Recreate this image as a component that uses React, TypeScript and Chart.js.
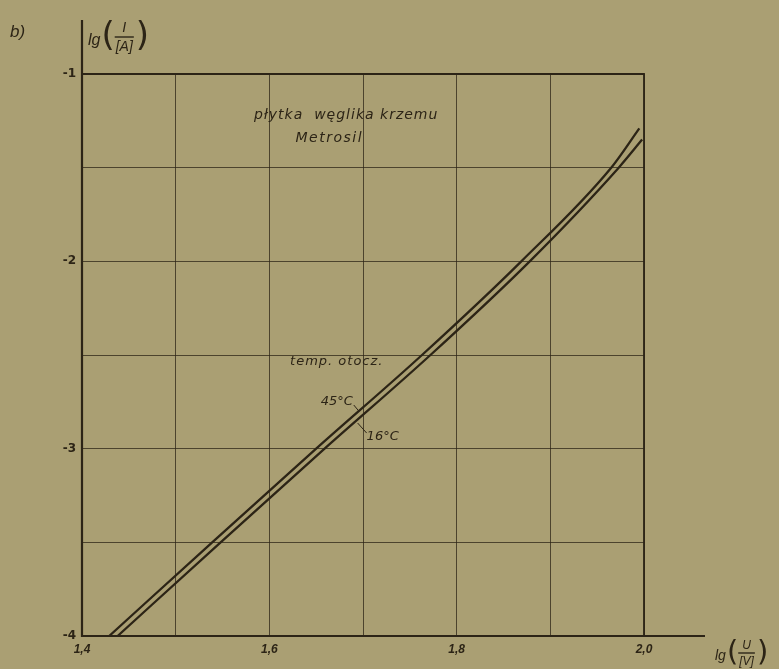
import React, { useEffect, useRef } from "react";
import { Chart, registerables } from "chart.js";

Chart.register(...registerables);

// --- data ---
const lgU45 = [1.429, 1.539, 1.65, 1.763, 1.869, 1.965, 1.995];
const lgI45 = [-4, -3.5, -3, -2.5, -2, -1.5, -1.29];
const lgU16 = [1.438, 1.548, 1.659, 1.772, 1.878, 1.973, 1.998];
const lgI16 = [-4, -3.5, -3, -2.5, -2, -1.5, -1.35];
const xLabelTicks = [1.4, 1.6, 1.8, 2.0];
const yLabelTicks = [-1, -2, -3, -4];

const INK = "#2c2416";
const PAPER = "#aa9f73";

const annotations = [
  { text: "płytka  węglika krzemu", x: 1.682, y: -1.219, size: 14, spacing: 1 },
  { text: "Metrosil", x: 1.664, y: -1.342, size: 14, spacing: 1.5 },
  { text: "temp. otocz.", x: 1.672, y: -2.535, size: 13, spacing: 1 },
  { text: "45°C", x: 1.672, y: -2.751, size: 13, spacing: 0 },
  { text: "16°C", x: 1.721, y: -2.938, size: 13, spacing: 0 },
];

const near = (v: number, arr: number[]) => arr.some((a) => Math.abs(a - v) < 1e-6);

const decorPlugin = {
  id: "decor",
  afterDraw(chart: any) {
    const { ctx, chartArea, scales } = chart;
    const xs = scales.x;
    const ys = scales.y;
    const L = chartArea.left, R = chartArea.right, T = chartArea.top, B = chartArea.bottom;
    ctx.save();
    ctx.strokeStyle = INK;
    ctx.fillStyle = INK;
    // axes and frame
    ctx.lineWidth = 2.2;
    ctx.beginPath();
    ctx.moveTo(L, 20);
    ctx.lineTo(L, B + 1);
    ctx.moveTo(L - 1, B);
    ctx.lineTo(705, B);
    ctx.stroke();
    ctx.lineWidth = 1.8;
    ctx.beginPath();
    ctx.moveTo(L, T);
    ctx.lineTo(R, T);
    ctx.lineTo(R, B);
    ctx.stroke();

    // annotations
    ctx.textAlign = "center";
    ctx.textBaseline = "middle";
    for (const a of annotations) {
      ctx.font = `italic ${a.size}px 'DejaVu Sans', sans-serif`;
      (ctx as any).letterSpacing = `${a.spacing}px`;
      ctx.fillText(a.text, xs.getPixelForValue(a.x), ys.getPixelForValue(a.y));
    }
    (ctx as any).letterSpacing = "0px";
    // leader lines
    ctx.lineWidth = 1;
    ctx.beginPath();
    const p45 = { x: xs.getPixelForValue(1.672), y: ys.getPixelForValue(-2.751) };
    ctx.moveTo(p45.x + 17, p45.y + 3);
    ctx.lineTo(p45.x + 22, p45.y + 9);
    const p16 = { x: xs.getPixelForValue(1.721), y: ys.getPixelForValue(-2.938) };
    ctx.moveTo(p16.x - 25, p16.y - 14);
    ctx.lineTo(p16.x - 16, p16.y - 4);
    ctx.stroke();

    // "b)"
    ctx.font = "italic 17px 'Liberation Sans', 'DejaVu Sans', sans-serif";
    ctx.textAlign = "left";
    ctx.textBaseline = "alphabetic";
    ctx.fillText("b)", 10, 37);

    // axis titles lg(num/den)
    const drawTitle = (x: number, yMid: number, num: string, den: string, s: number) => {
      ctx.textAlign = "left";
      ctx.textBaseline = "middle";
      ctx.font = `italic ${Math.round(16 * s)}px 'Liberation Sans', 'DejaVu Sans', sans-serif`;
      ctx.fillText("lg", x, yMid + 4 * s);
      const lgW = ctx.measureText("lg").width;
      ctx.font = `${Math.round(34 * s)}px 'DejaVu Sans', sans-serif`;
      const px = x + lgW + 1;
      ctx.fillText("(", px, yMid);
      const pw = ctx.measureText("(").width;
      ctx.font = `italic ${Math.round(14 * s)}px 'Liberation Sans', 'DejaVu Sans', sans-serif`;
      const dw = ctx.measureText(den).width;
      const fx = px + pw + 1;
      ctx.textAlign = "center";
      ctx.fillText(num, fx + dw / 2, yMid - 9 * s);
      ctx.fillText(den, fx + dw / 2, yMid + 10 * s);
      ctx.lineWidth = 1.4;
      ctx.beginPath();
      ctx.moveTo(fx - 1, yMid);
      ctx.lineTo(fx + dw + 1, yMid);
      ctx.stroke();
      ctx.textAlign = "left";
      ctx.font = `${Math.round(34 * s)}px 'DejaVu Sans', sans-serif`;
      ctx.fillText(")", fx + dw + 3, yMid);
    };
    drawTitle(88, 37, "I", "[A]", 1);
    drawTitle(715, 653, "U", "[V]", 0.85);
    ctx.restore();
  },
};

export default function App() {
  const ref = useRef<HTMLCanvasElement>(null);
  useEffect(() => {
    if (!ref.current) return;
    const chart = new Chart(ref.current, {
      type: "line",
      data: {
        datasets: [
          {
            label: "45°C",
            data: lgU45.map((x, i) => ({ x, y: lgI45[i] })),
            borderColor: INK,
            borderWidth: 2.3,
            pointRadius: 0,
            cubicInterpolationMode: "monotone",
            fill: false,
          },
          {
            label: "16°C",
            data: lgU16.map((x, i) => ({ x, y: lgI16[i] })),
            borderColor: INK,
            borderWidth: 2.3,
            pointRadius: 0,
            cubicInterpolationMode: "monotone",
            fill: false,
          },
        ],
      },
      options: {
        responsive: false,
        animation: false,
        layout: { padding: { left: 42, top: 74, right: 135, bottom: 8 } },
        plugins: { legend: { display: false }, tooltip: { enabled: false } },
        scales: {
          x: {
            type: "linear",
            min: 1.4,
            max: 2.0,
            border: { display: false },
            grid: { color: "rgba(44,36,22,0.75)", lineWidth: 1, drawTicks: false },
            ticks: {
              stepSize: 0.1,
              padding: 6,
              color: INK,
              autoSkip: false,
              maxRotation: 0,
              font: { family: "'Liberation Sans', 'DejaVu Sans', sans-serif", size: 12, style: "italic", weight: "bold" },
              callback: (v: any) => (near(Number(v), xLabelTicks) ? Number(v).toFixed(1).replace(".", ",") : ""),
            },
            afterFit: (s: any) => {
              s.height = 25;
            },
          },
          y: {
            type: "linear",
            min: -4,
            max: -1,
            border: { display: false },
            grid: { color: "rgba(44,36,22,0.75)", lineWidth: 1, drawTicks: false },
            ticks: {
              stepSize: 0.5,
              padding: 6,
              color: INK,
              autoSkip: false,
              font: { family: "'DejaVu Sans', sans-serif", size: 12, weight: "bold" },
              callback: (v: any) => (near(Number(v), yLabelTicks) ? String(Math.round(Number(v))) : ""),
            },
            afterFit: (s: any) => {
              s.width = 40;
            },
          },
        },
      } as any,
      plugins: [decorPlugin],
    });
    return () => chart.destroy();
  }, []);
  return (
    <div style={{ position: "absolute", left: 0, top: 0, width: 779, height: 669, background: PAPER }}>
      <canvas ref={ref} width={779} height={669} style={{ display: "block" }} />
    </div>
  );
}
